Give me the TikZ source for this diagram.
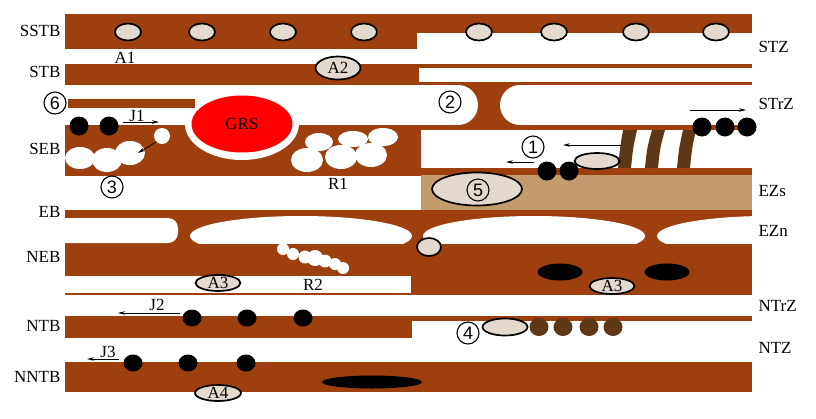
\documentclass[tikz,border=0pt]{standalone}
\usepackage{fontspec}
\setmainfont{Liberation Serif}
\setsansfont{Liberation Sans}
\usepackage{tikz}
\usetikzlibrary{arrows.meta, positioning, shapes.geometric}

\definecolor{bandbrown}{RGB}{157,64,14}
\definecolor{tanzone}{RGB}{196,155,108}
\definecolor{vesbeige}{RGB}{228,217,206}
\definecolor{stripebrown}{RGB}{94,55,20}

\begin{document}
\begin{tikzpicture}[x=1pt, y=-1pt, font=\fontsize{17}{20}\selectfont,
    band/.style={fill=bandbrown},
    vesicle/.style={ellipse, draw, line width=1.7pt, fill=vesbeige, inner sep=0pt},
    blob/.style={ellipse, fill=black, inner sep=0pt, minimum width=19pt, minimum height=17pt},
    bead/.style={ellipse, fill=stripebrown, inner sep=0pt, minimum width=19pt, minimum height=18pt},
    num/.style={circle, draw, line width=1.1pt, inner sep=0pt, minimum size=22pt, font=\sffamily\fontsize{18}{20}\selectfont},
    layer/.style={anchor=east},
    zone/.style={anchor=west},
    arr/.style={-{Stealth[length=7pt, width=3.5pt]}, line width=0.8pt}]
  \useasboundingbox (0,0) rectangle (816,418);

  % Bands, upper part
  \fill[band] (65,14) rectangle (417,48.7);
  \fill[band] (417,14) rectangle (752,33);
  \fill[band] (65,64) rectangle (419,85);
  \fill[band] (419,64) rectangle (752,68);
  \fill[band] (419,82) rectangle (752,85);
  \fill[band] (445,84) rectangle (530,126);
  \fill[white, rounded corners=20pt] (370,85) rectangle (478,125);
  \fill[white, rounded corners=20pt] (500,85) rectangle (780,125);
  \fill[band] (65,125) rectangle (421,176);
  \fill[band] (421,125) rectangle (752,130);
  \fill[band] (421,168) rectangle (752,175);
  \fill[tanzone] (421,175) rectangle (752,210);
  \fill[white] (242,124) ellipse [x radius=57pt, y radius=36pt];
  \fill[band] (68,99) rectangle (195,108);

  % Bands, lower part
  \fill[band] (65,210) rectangle (752,276);
  \fill[band] (411,276) rectangle (752,295);
  \fill[band] (65,292.5) rectangle (752,295);
  \fill[white, rounded corners=10pt] (40,218) rectangle (178,243);
  \begin{scope}
    \clip (65,210) rectangle (752,243);
    \fill[white] (301,236) ellipse [x radius=111pt, y radius=20pt];
    \fill[white] (534,236) ellipse [x radius=111pt, y radius=20pt];
    \fill[white] (768,236) ellipse [x radius=111pt, y radius=20pt];
  \end{scope}
  \fill[band] (65,316) rectangle (412,338);
  \fill[band] (412,316) rectangle (752,321);
  \fill[band] (65,362) rectangle (752,392);

  % Stripes
  \fill[stripebrown] (623,130) .. controls (620,148) .. (618,168) -- (631,168) .. controls (633,148) .. (637,130) -- cycle;
  \fill[stripebrown] (652,130) .. controls (647,148) .. (645,168) -- (658,168) .. controls (660,148) .. (665,130) -- cycle;
  \fill[stripebrown] (683,130) .. controls (679,148) .. (677,168) -- (690,168) .. controls (692,148) .. (696,130) -- cycle;

  % SSTB vesicles
  \node[vesicle, minimum width=26pt, minimum height=17pt] (v1) at (128,32) {};
  \node[vesicle, minimum width=26pt, minimum height=17pt] (v2) at (202,32) {};
  \node[vesicle, minimum width=26pt, minimum height=17pt] (v3) at (283,32) {};
  \node[vesicle, minimum width=26pt, minimum height=17pt] (v4) at (364,32) {};
  \node[vesicle, minimum width=26pt, minimum height=17pt] (v5) at (479,32) {};
  \node[vesicle, minimum width=26pt, minimum height=17pt] (v6) at (554,32) {};
  \node[vesicle, minimum width=26pt, minimum height=17pt] (v7) at (636,32) {};
  \node[vesicle, minimum width=26pt, minimum height=17pt] (v8) at (716,32) {};
  \node (a1) at (125,58) {A1};
  \node[vesicle, minimum width=45pt, minimum height=23pt] (a2) at (338,68) {A2};

  % GRS
  \node[ellipse, fill=red, inner sep=0pt, minimum width=101pt, minimum height=57pt] (grs) at (242,124) {GRS};

  % SEB, left
  \node[num] (n6) at (55,103) {6};
  \node[blob, minimum height=19pt] (d1) at (79,126) {};
  \node[blob, minimum height=19pt] (d2) at (109,126) {};
  \coordinate (j1s) at (123,122);
  \coordinate (j1e) at (159,122);
  \draw[arr] (j1s) -- (j1e);
  \node (j1) at (137,116) {J1};
  \fill[white] (80,158) ellipse [x radius=15pt, y radius=11pt];
  \fill[white] (107,160) ellipse [x radius=15pt, y radius=12pt];
  \fill[white] (130,153) ellipse [x radius=15pt, y radius=12pt];
  \node[circle, fill=white, inner sep=0pt, minimum size=16pt] (wv) at (162,136) {};
  \coordinate (wvend) at (138,153);
  \draw[arr] (wv.south west) -- (wvend);
  \node[num] (n3) at (112,187) {3};

  % R1
  \fill[white] (319,142) ellipse [x radius=14pt, y radius=9pt];
  \fill[white] (353,139) ellipse [x radius=15pt, y radius=8pt];
  \fill[white] (383,137) ellipse [x radius=15pt, y radius=9pt];
  \fill[white] (307,160) ellipse [x radius=16pt, y radius=12pt];
  \fill[white] (341,157) ellipse [x radius=16pt, y radius=12pt];
  \fill[white] (371,155) ellipse [x radius=16pt, y radius=12pt];
  \node (r1) at (338,184) {R1};

  % STrZ and SEB, right
  \node[num] (n2) at (450,102) {2};
  \node[blob, minimum height=19pt] (d3) at (702,127) {};
  \node[blob, minimum height=19pt] (d4) at (725,127) {};
  \node[blob, minimum height=19pt] (d5) at (747,127) {};
  \coordinate (ts) at (690,110);
  \coordinate (te) at (746,110);
  \draw[arr] (ts) -- (te);
  \node[num] (n1) at (533,147) {1};
  \coordinate (k1s) at (621,145);
  \coordinate (k1e) at (563,145);
  \draw[arr] (k1s) -- (k1e);
  \node[vesicle, minimum width=45pt, minimum height=16pt] (v9) at (597,161) {};
  \node[blob, minimum height=19pt] (d6) at (547,171) {};
  \node[blob, minimum height=19pt] (d7) at (569,171) {};
  \coordinate (k2s) at (534,162);
  \coordinate (k2e) at (506,162);
  \draw[arr] (k2s) -- (k2e);

  % EZs
  \node[vesicle, minimum width=90pt, minimum height=33pt] (v10) at (477,189) {};
  \node[num] (n5) at (478,190) {5};

  % EB / NEB
  \node[vesicle, minimum width=24pt, minimum height=18pt] (v11) at (429,247) {};
  \node[ellipse, fill=black, inner sep=0pt, minimum width=45pt, minimum height=17pt] (e1) at (560,272) {};
  \node[ellipse, fill=black, inner sep=0pt, minimum width=45pt, minimum height=17pt] (e2) at (667,272) {};
  \fill[black] (219,278) ellipse [x radius=13pt, y radius=4pt];
  \node[vesicle, minimum width=45pt, minimum height=16pt, label=center:A3] (a3l) at (218,283) {};
  \node[vesicle, minimum width=45pt, minimum height=16pt, label=center:A3] (a3r) at (612,286) {};
  \fill[white] (283,249) circle [radius=6pt];
  \fill[white] (293,254) circle [radius=6pt];
  \fill[white] (305,257) circle [radius=6.5pt];
  \fill[white] (315,258) circle [radius=8pt];
  \fill[white] (325,261) circle [radius=6.5pt];
  \fill[white] (335,264) circle [radius=6pt];
  \fill[white] (343,268) circle [radius=6pt];
  \node (r2) at (313,285) {R2};

  % NTB / NTZ
  \node[blob] (d8) at (192,318) {};
  \node[blob] (d9) at (247,318) {};
  \node[blob] (d10) at (303,318) {};
  \coordinate (j2s) at (180,313);
  \coordinate (j2e) at (118,313);
  \draw[arr] (j2s) -- (j2e);
  \node (j2) at (157,305) {J2};
  \node[num] (n4) at (468,333) {4};
  \node[vesicle, minimum width=45pt, minimum height=17pt] (v12) at (505,327) {};
  \node[bead] (b1) at (539,327) {};
  \node[bead] (b2) at (563,327) {};
  \node[bead] (b3) at (589,327) {};
  \node[bead] (b4) at (613,327) {};

  % NNTB
  \node[blob] (d11) at (133,363) {};
  \node[blob] (d12) at (188,363) {};
  \node[blob] (d13) at (246,363) {};
  \coordinate (j3s) at (119,359);
  \coordinate (j3e) at (87,359);
  \draw[arr] (j3s) -- (j3e);
  \node (j3) at (108,352) {J3};
  \node[ellipse, fill=black, inner sep=0pt, minimum width=100pt, minimum height=13pt] (e3) at (372,382) {};
  \node[vesicle, minimum width=46pt, minimum height=16pt, label=center:A4] (a4) at (218,393) {};

  % Layer names
  \node[layer] (sstb) at (64,31) {SSTB};
  \node[layer] (stb) at (64,72) {STB};
  \node[layer] (seb) at (64,149) {SEB};
  \node[layer] (eb) at (64,212) {EB};
  \node[layer] (neb) at (64,257) {NEB};
  \node[layer] (ntb) at (64,326) {NTB};
  \node[layer] (nntb) at (64,377) {NNTB};

  % Zone names
  \node[zone] (stz) at (755,47) {STZ};
  \node[zone] (strz) at (755,104) {STrZ};
  \node[zone] (ezs) at (755,191) {EZs};
  \node[zone] (ezn) at (755,231) {EZn};
  \node[zone] (ntrz) at (755,306) {NTrZ};
  \node[zone] (ntz) at (755,348) {NTZ};
\end{tikzpicture}
\end{document}
